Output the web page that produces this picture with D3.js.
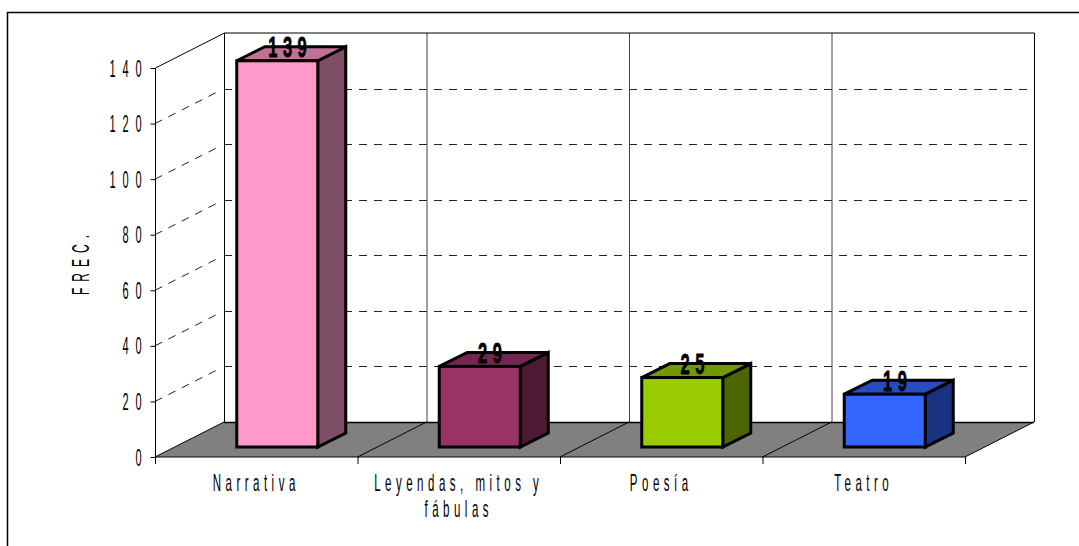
<!DOCTYPE html>
<html>
<head>
<meta charset="utf-8">
<style>
  html, body { margin: 0; background: #fff; }
  svg { display: block; }
  text { font-family: "Liberation Sans", Arial, sans-serif; fill: #000; }
</style>
<script src="https://cdn.jsdelivr.net/npm/d3@7"></script>
</head>
<body>
<div id="svg-container"></div>
<script>
const categories = ['Narrativa', 'Leyendas, mitos y|fábulas', 'Poesía', 'Teatro']
const values = [139, 29, 25, 19]
const yTicks = [0, 20, 40, 60, 80, 100, 120, 140]
const frontColors = ['#ff99cc', '#993366', '#99cc00', '#3366ff']
const topColors = ['#bf7399', '#732650', '#739900', '#264dbf']
const sideColors = ['#804d66', '#4d1a33', '#4d6600', '#1a3380']

const width = 1079
const height = 546
const wallDx = 69
const wallDy = -35
const barW = 81
const barDx = 28
const barDy = -14
const barOffX = 21
const barOffY = -10

const svg = d3.select('#svg-container').append('svg')
  .attr('width', width).attr('height', height)

const x = d3.scaleBand().domain(categories).range([155, 965])
const y = d3.scaleLinear().domain([0, 140]).range([457, 68])
const pts = a => a.map(p => p.join(',')).join(' ')
const edges = [...categories.map(c => x(c)), 965]

// chart frame, only top and left show
svg.append('path').attr('d', `M7.5,${height}V12.5H${width}`)
  .attr('fill', 'none').attr('stroke', '#000').attr('stroke-width', 1.5)

// floor
svg.append('polygon')
  .attr('points', pts([[155, y(0)], [965, y(0)], [965 + wallDx, y(0) + wallDy], [155 + wallDx, y(0) + wallDy]]))
  .attr('fill', '#808080')

// grid, side wall then back wall
const grid = svg.append('g').attr('stroke', '#222').attr('stroke-dasharray', '8,7')
grid.selectAll('.side').data(yTicks.slice(1, -1)).join('line')
  .attr('x1', 155).attr('y1', d => y(d))
  .attr('x2', 155 + wallDx - 7).attr('y2', d => y(d) + (wallDx - 7) * wallDy / wallDx)
grid.selectAll('.back').data(yTicks.slice(1, -1)).join('line')
  .attr('x1', 155 + wallDx).attr('y1', d => Math.round(y(d) + wallDy) + 0.5)
  .attr('x2', 965 + wallDx).attr('y2', d => Math.round(y(d) + wallDy) + 0.5)

// back wall verticals and outline
const walls = svg.append('g').attr('fill', 'none').attr('stroke', '#000')
walls.selectAll('.v').data(edges.slice(1, -1)).join('line')
  .attr('x1', d => d + wallDx + 0.5).attr('x2', d => d + wallDx + 0.5)
  .attr('y1', y(140) + wallDy).attr('y2', y(0) + wallDy)
  .attr('stroke', '#444')
walls.append('path')
  .attr('d', `M155.5,${y(140)}L224.5,${y(140) + wallDy}H1034.5V${y(0) + wallDy}`)
walls.append('path')
  .attr('d', `M224.5,${y(140) + wallDy}V${y(0) + wallDy}`)
walls.append('path')
  .attr('d', `M224,${y(0) + wallDy + 0.5}H1034`).attr('stroke-width', 1.5)
walls.selectAll('.d').data(edges).join('line')
  .attr('x1', d => d).attr('y1', y(0))
  .attr('x2', d => d + wallDx).attr('y2', y(0) + wallDy)

// axes
const squeeze = (sel, sx, spacing) => sel
  .attr('letter-spacing', spacing)
  .attr('transform', function () {
    const tx = +d3.select(this).attr('x') || 0
    return `translate(${tx},0) scale(${sx},1)`
  })
  .attr('x', 0)

const yAxis = svg.append('g').attr('transform', 'translate(155.5,0)')
  .call(d3.axisLeft(y).tickValues(yTicks).tickSize(5).tickPadding(2))
yAxis.select('.domain').attr('stroke', '#000').attr('d', `M0,${y(140)}V${y(0) + 6}`)
yAxis.selectAll('text')
  .attr('font-family', '"Liberation Sans"').attr('font-size', 24)
  .attr('dy', 8)
  .call(squeeze, 0.46, 15)

const xAxis = svg.append('g').attr('transform', `translate(0,${y(0)})`)
xAxis.append('line').attr('x1', 155).attr('x2', 965).attr('stroke', '#000').attr('stroke-width', 1.2)
xAxis.selectAll('.tick').data(edges).join('line')
  .attr('x1', d => d + 0.5).attr('x2', d => d + 0.5).attr('y1', 0).attr('y2', 7)
  .attr('stroke', '#000')

const labels = svg.append('g')
categories.forEach(c => {
  c.split('|').forEach((line, i) => {
    labels.append('text')
      .attr('text-anchor', 'middle')
      .attr('font-size', 23)
      .attr('letter-spacing', 9)
      .attr('transform', `translate(${x(c) + x.bandwidth() / 2},${491 + i * 26}) scale(0.5,1)`)
      .text(line)
  })
})

svg.append('text')
  .attr('text-anchor', 'middle')
  .attr('font-size', 24)
  .attr('letter-spacing', 12)
  .attr('transform', 'translate(89,262) rotate(-90) scale(0.5,1)')
  .text('FREC.')

// bars
const data = categories.map((c, i) => ({ c, v: values[i], i }))
const bars = svg.append('g').selectAll('g').data(data).join('g')
  .attr('stroke', '#000').attr('stroke-width', 3).attr('stroke-linejoin', 'miter')

const bx = d => x(d.c) + (x.bandwidth() - barW) / 2 + barOffX
const by0 = y(0) + barOffY
const by1 = d => y(d.v) + barOffY

bars.append('polygon').attr('fill', d => sideColors[d.i])
  .attr('points', d => pts([[bx(d) + barW, by1(d)], [bx(d) + barW + barDx, by1(d) + barDy], [bx(d) + barW + barDx, by0 + barDy], [bx(d) + barW, by0]]))
bars.append('polygon').attr('fill', d => topColors[d.i])
  .attr('points', d => pts([[bx(d), by1(d)], [bx(d) + barDx, by1(d) + barDy], [bx(d) + barW + barDx, by1(d) + barDy], [bx(d) + barW, by1(d)]]))
bars.append('rect').attr('fill', d => frontColors[d.i])
  .attr('x', bx).attr('y', by1)
  .attr('width', barW).attr('height', d => by0 - by1(d))

// value labels
svg.append('g').selectAll('text').data(data).join('text')
  .attr('text-anchor', 'middle')
  .attr('font-size', 30)
  .attr('font-weight', 700)
  .attr('letter-spacing', 10)
  .attr('stroke', '#000').attr('stroke-width', 0.8)
  .attr('transform', d => `translate(${bx(d) + barW / 2 + 13},${by1(d) - 3.5}) scale(0.55,1)`)
  .text(d => d.v)
</script>
</body>
</html>
